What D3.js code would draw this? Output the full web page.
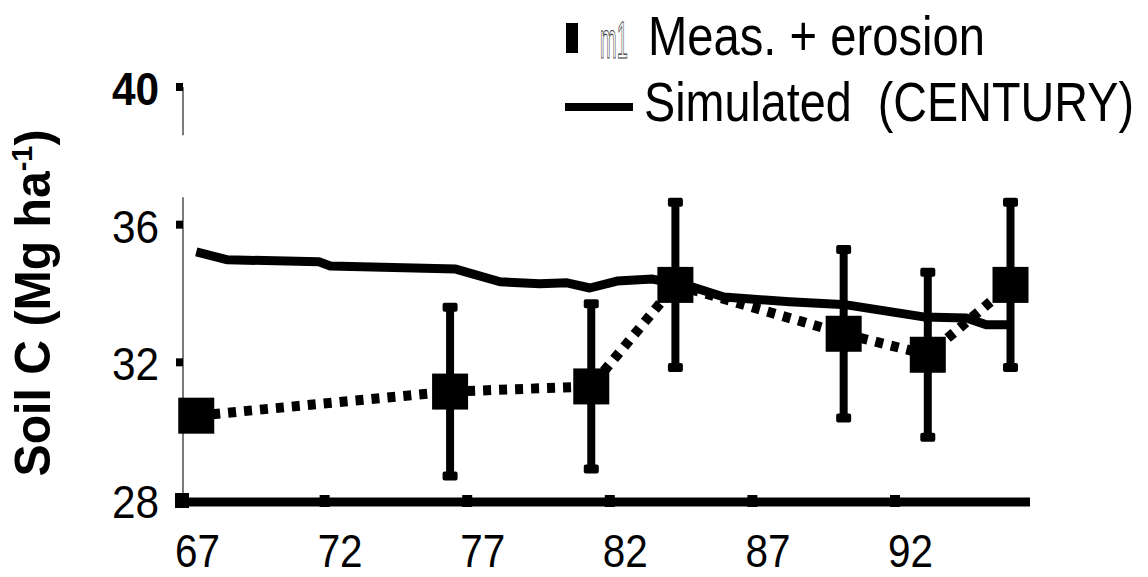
<!DOCTYPE html>
<html>
<head>
<meta charset="utf-8">
<script src="https://cdn.jsdelivr.net/npm/d3@7"></script>
<style>
  body { margin: 0; background: #fff; }
  svg { display: block; }
  text { font-family: "Liberation Sans", Arial, Helvetica, sans-serif; fill: #000; }
</style>
</head>
<body>
<div id="chart"></div>
<script>
// measured soil C (+ erosion), with error bars
var years = [67.5, 76.4, 81.35, 84.3, 90.2, 93.15, 96.05];
var measured = [30.45, 31.15, 31.3, 34.25, 32.83, 32.22, 34.25];
var errors = [0, 2.45, 2.4, 2.4, 2.45, 2.4, 2.4];

// simulated (CENTURY)
var simYears = [67.5, 68.6, 71.8, 72.2, 76.6, 78.15, 79.55, 80.5, 81.3, 82.25, 83.5, 84.9, 86.0, 88.3, 90.3, 93.0, 94.5, 95.2, 96.05];
var simValues = [35.21, 34.98, 34.92, 34.8, 34.71, 34.34, 34.28, 34.31, 34.16, 34.36, 34.42, 34.19, 33.9, 33.76, 33.67, 33.32, 33.29, 33.09, 33.09];

var xTicks = [67, 72, 77, 82, 87, 92];
var yTicks = [28, 32, 36, 40];

var width = 1148, height = 577;

var svg = d3.select("#chart").append("svg")
    .attr("width", width)
    .attr("height", height);

// ranges picked to sit where the original axes are
var x = d3.scaleLinear().domain([67, 92]).range([182, 895]);
var y = d3.scaleLinear().domain([28, 40]).range([500, 87]);
var xEnd = x.invert(1030);

// squeeze text to look like a narrow typeface
function condense(sel, k) {
    sel.each(function() {
        var w = this.getComputedTextLength();
        d3.select(this).attr("textLength", w * k).attr("lengthAdjust", "spacingAndGlyphs");
    });
}

// y axis
var yAxis = svg.append("g")
    .attr("transform", "translate(" + x(67) + ",0)")
    .call(d3.axisLeft(y).tickValues(yTicks).tickSize(0).tickFormat(d3.format("d")));
yAxis.select(".domain").remove();
yAxis.selectAll("text")
    .attr("x", -23)
    .attr("dy", "0.38em")
    .style("font-size", "46px")
    .style("font-weight", function(d) { return d === 40 ? "bold" : "normal"; })
    .call(condense, 0.92);

// thin axis line (broken like the scan)
svg.append("line")
    .attr("x1", x(67) + 1).attr("x2", x(67) + 1)
    .attr("y1", y(40)).attr("y2", y(38.6))
    .attr("stroke", "#222").attr("stroke-width", 1.2);
svg.append("line")
    .attr("x1", x(67) + 1).attr("x2", x(67) + 1)
    .attr("y1", y(36.8)).attr("y2", y(28))
    .attr("stroke", "#222").attr("stroke-width", 1.2);

svg.selectAll(".ytick")
    .data(yTicks.slice(1))
    .enter().append("rect")
    .attr("class", "ytick")
    .attr("x", x(67) - 6)
    .attr("y", function(d) { return y(d) - 4; })
    .attr("width", 7)
    .attr("height", 8)
    .attr("fill", "#000");

// x axis
var xAxis = svg.append("g")
    .attr("transform", "translate(0," + y(28) + ")")
    .call(d3.axisBottom(x).tickValues(xTicks).tickSize(0));
xAxis.select(".domain").remove();
xAxis.selectAll("text")
    .attr("y", 67)
    .attr("x", 15)
    .attr("dy", null)
    .style("font-size", "47px")
    .call(condense, 0.86);

svg.append("line")
    .attr("x1", x(67)).attr("x2", x(xEnd))
    .attr("y1", y(28) + 2).attr("y2", y(28) + 2)
    .attr("stroke", "#000").attr("stroke-width", 9);

svg.selectAll(".xtick")
    .data(xTicks)
    .enter().append("rect")
    .attr("class", "xtick")
    .attr("x", function(d, i) { return x(d) - (i === 0 ? 7 : 5); })
    .attr("y", function(d, i) { return y(28) - (i === 0 ? 7 : 5); })
    .attr("width", function(d, i) { return i === 0 ? 14 : 10; })
    .attr("height", function(d, i) { return i === 0 ? 15 : 12; })
    .attr("fill", "#000");

// simulated line
var simLine = d3.line()
    .x(function(d, i) { return x(simYears[i]); })
    .y(function(d) { return y(d); });

svg.append("path")
    .attr("d", simLine(simValues))
    .attr("fill", "none")
    .attr("stroke", "#000")
    .attr("stroke-width", 9)
    .attr("stroke-linejoin", "round");

// dotted connection of measured points
var measLine = d3.line()
    .x(function(d, i) { return x(years[i]); })
    .y(function(d) { return y(d); });

svg.append("path")
    .attr("d", measLine(measured))
    .attr("fill", "none")
    .attr("stroke", "#000")
    .attr("stroke-width", 10)
    .attr("stroke-dasharray", "8,8");

// error bars
var errData = [];
measured.forEach(function(d, i) {
    if (errors[i] > 0) errData.push({yr: years[i], v: d, e: errors[i]});
});

var eb = svg.selectAll(".err")
    .data(errData)
    .enter().append("g")
    .attr("class", "err");

eb.append("line")
    .attr("x1", function(d) { return x(d.yr); })
    .attr("x2", function(d) { return x(d.yr); })
    .attr("y1", function(d) { return y(d.v - d.e); })
    .attr("y2", function(d) { return y(d.v + d.e); })
    .attr("stroke", "#000")
    .attr("stroke-width", 8);

eb.selectAll(".cap")
    .data(function(d) { return [d.v - d.e, d.v + d.e].map(function(v) { return {yr: d.yr, v: v}; }); })
    .enter().append("rect")
    .attr("class", "cap")
    .attr("x", function(d) { return x(d.yr) - 7.5; })
    .attr("y", function(d) { return y(d.v) - 4.5; })
    .attr("width", 15)
    .attr("height", 9)
    .attr("rx", 2)
    .attr("fill", "#000");

// square markers
svg.selectAll(".dot")
    .data(measured)
    .enter().append("rect")
    .attr("class", "dot")
    .attr("x", function(d, i) { return x(years[i]) - 18; })
    .attr("y", function(d) { return y(d) - 18; })
    .attr("width", 36)
    .attr("height", 36)
    .attr("fill", "#000");

// legend
svg.append("rect").attr("x", 566).attr("y", 23).attr("width", 12).attr("height", 30).attr("fill", "#000");
svg.append("text")
    .attr("transform", "translate(600,58) scale(1,2.6)")
    .text("m1")
    .style("font-size", "20px")
    .style("fill", "none")
    .style("stroke", "#333")
    .style("stroke-width", 0.9)
    .attr("vector-effect", "non-scaling-stroke");
svg.append("text")
    .attr("transform", "translate(648,55) scale(1,1.2)")
    .text("Meas. + erosion")
    .style("font-size", "47px")
    .attr("textLength", 337)
    .attr("lengthAdjust", "spacingAndGlyphs");

svg.append("line")
    .attr("x1", 565).attr("x2", 633)
    .attr("y1", 107).attr("y2", 107)
    .attr("stroke", "#000").attr("stroke-width", 8);
svg.append("text")
    .attr("transform", "translate(644,121) scale(1,1.18)")
    .attr("xml:space", "preserve")
    .text("Simulated  (CENTURY)")
    .style("font-size", "46.5px")
    .attr("textLength", 490)
    .attr("lengthAdjust", "spacingAndGlyphs");

// y title
var title = svg.append("text")
    .style("font-size", "50px")
    .style("font-weight", "bold");
title.append("tspan").text("Soil C (Mg ha");
title.append("tspan").text("-1").style("font-size", "30px").attr("dy", -18);
title.append("tspan").text(")").attr("dy", 18);
var tw = title.node().getBBox().width;
title.attr("text-anchor", "middle")
    .attr("transform", "translate(50,303) rotate(-90) scale(" + (347 / tw) + ",1)");
</script>
</body>
</html>
